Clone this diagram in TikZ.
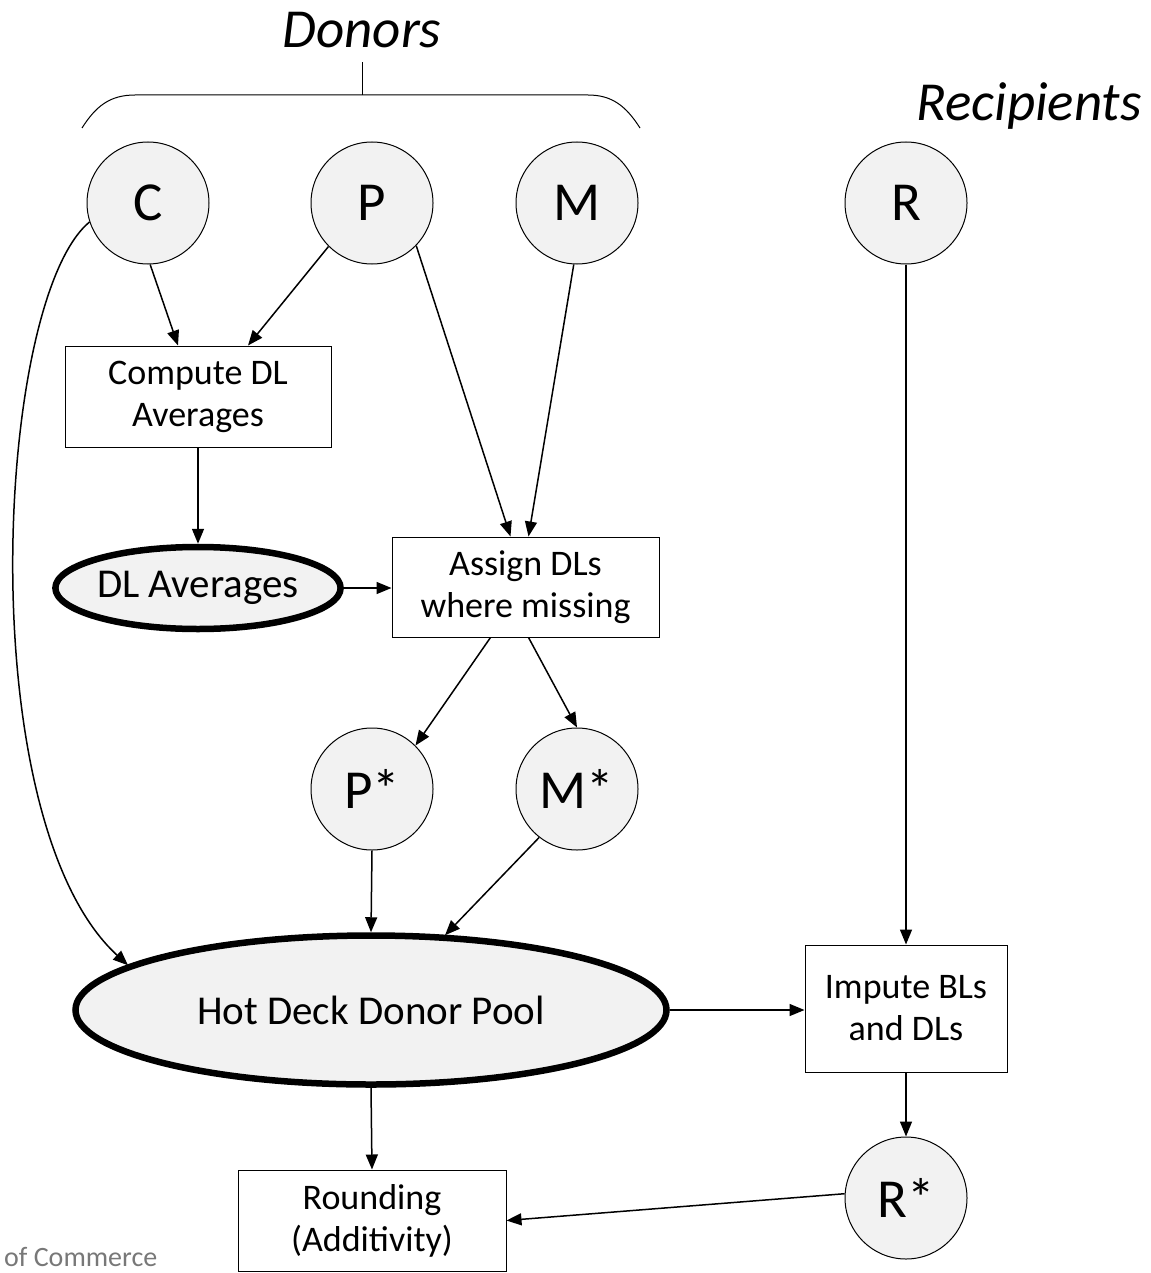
\documentclass[tikz,border=0pt]{standalone}
\usepackage{fontspec}
\setmainfont{Carlito}
\usetikzlibrary{shapes.geometric,arrows.meta}

\definecolor{nodefill}{RGB}{242,242,242}
\definecolor{markgray}{RGB}{120,120,120}

\tikzset{
  var/.style={circle, draw, line width=1pt, fill=nodefill, minimum size=122pt,
              inner sep=0pt, font=\fontsize{55}{64}\selectfont},
  proc/.style={rectangle, draw, line width=1pt, fill=white, align=center,
               inner sep=0pt, font=\fontsize{36}{42}\selectfont},
  pool/.style={ellipse, draw, line width=6.5pt, fill=nodefill, inner sep=0pt,
               font=\fontsize{41}{48}\selectfont},
  flow/.style={line width=1.5pt, -{Triangle[length=15pt,width=12pt]}},
  group/.style={font=\fontsize{55}{62}\selectfont\itshape}
}

\begin{document}
\begin{tikzpicture}[x=1pt,y=-1pt]
  \useasboundingbox (0,0) rectangle (1150,1273);

  % group labels and the brace over the donor files
  \node[group] (donors) at (362,30) {Donors};
  \node[group] (recip) at (1029,106) {Recipients};
  \draw[line width=1pt] (82,128) .. controls (96,106) and (110,95) .. (135,95)
        -- (588,95) .. controls (612,95) and (626,106) .. (640,128);
  \draw[line width=1pt] (362,95) -- (362,62);

  % input and output files
  \node[var] (C)  at (148,203) {C};
  \node[var] (P)  at (372,203) {P};
  \node[var] (M)  at (577,203) {M};
  \node[var] (R)  at (906,203) {R};
  \node[var] (Ps) at (372,789) {P*};
  \node[var] (Ms) at (577,789) {M*};
  \node[var] (Rs) at (906,1198) {R*};

  % processing steps
  \node[proc, minimum width=266pt, minimum height=101pt] (compute) at (198,396.5)
       {Compute DL\\Averages};
  \node[proc, minimum width=267pt, minimum height=100pt] (assign) at (525.5,587)
       {Assign DLs\\where missing};
  \node[proc, minimum width=202pt, minimum height=127pt] (impute) at (906,1008.5)
       {Impute BLs\\and DLs};
  \node[proc, minimum width=268pt, minimum height=101pt] (round) at (372,1220.5)
       {Rounding\\(Additivity)};

  % intermediate data sets
  \node[pool, minimum width=261pt, minimum height=82pt] (avg) at (198,588) {DL Averages};
  \node[pool, minimum width=591pt, minimum height=149pt] (hot) at (371,1010) {Hot Deck Donor Pool};

  % footer fragment
  \node[anchor=west, text=markgray, font=\fontsize{28}{32}\selectfont, inner sep=0pt]
       (foot) at (4,1257) {of Commerce};

  % connectors
  \draw[flow] (C.-88) -- ([xshift=-20pt]compute.north);
  \draw[flow] (P.225) -- ([xshift=50pt]compute.north);
  \draw[flow] (P.-44) -- ([xshift=-15pt]assign.north);
  \draw[flow] (M.-93) -- ([xshift=3pt]assign.north);
  \draw[flow] (compute.south) -- (avg.north);
  \draw[flow] (avg.east) -- (avg.east -| assign.west);
  \draw[flow] ([xshift=-35pt]assign.south) -- (Ps.45);
  \draw[flow] ([xshift=3pt]assign.south) -- (Ms.north);
  \draw[flow] (Ps.south) -- (hot.north);
  \draw[flow] (Ms.232) -- ([xshift=74pt,yshift=-3pt]hot.north);
  \draw[flow] (C.198) .. controls (-5,300) and (-30,820) ..
        ([xshift=-243pt,yshift=-33pt]hot.north);
  \draw[flow] (R.south) -- (impute.north);
  \draw[flow] (hot.east) -- (hot.east -| impute.west);
  \draw[flow] (impute.south) -- (Rs.north);
  \draw[flow] (hot.south) -- (round.north);
  \draw[flow] (Rs.176) -- (round.east);
\end{tikzpicture}
\end{document}
